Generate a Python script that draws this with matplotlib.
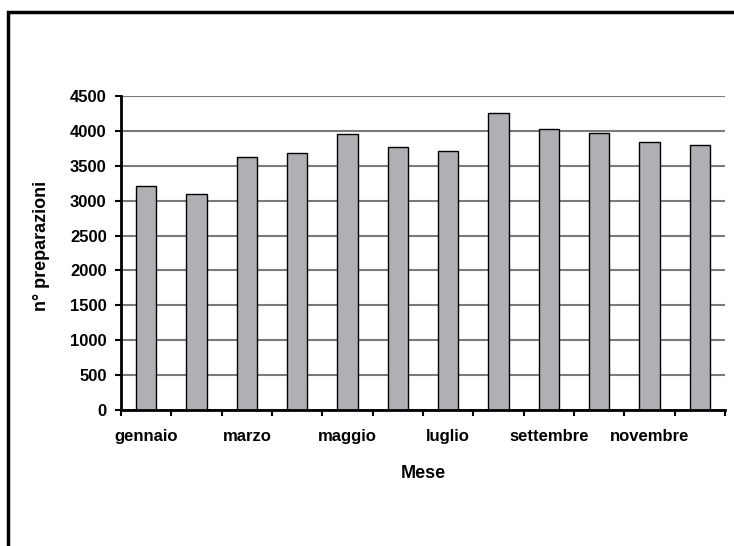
import matplotlib
matplotlib.use("Agg")
import matplotlib.pyplot as plt
from matplotlib.patches import Rectangle
import numpy as np

mesi = ["gennaio", "febbraio", "marzo", "aprile", "maggio", "giugno",
        "luglio", "agosto", "settembre", "ottobre", "novembre", "dicembre"]
preparazioni = [3215, 3095, 3630, 3680, 3950, 3765,
                3705, 4250, 4025, 3965, 3835, 3795]
y_ticks = [0, 500, 1000, 1500, 2000, 2500, 3000, 3500, 4000, 4500]

plt.rcParams["font.family"] = ["Liberation Sans", "DejaVu Sans"]
plt.rcParams["font.weight"] = "bold"

W, H = 734, 546
fig = plt.figure(figsize=(W / 100, H / 100), dpi=100)
ax = fig.add_axes([121 / W, 1 - 410 / H, (725 - 121) / W, (410 - 96) / H])

x = np.arange(len(mesi))
ax.bar(x, preparazioni, width=0.4, color="#b0b0b4", edgecolor="black",
       linewidth=1.0, zorder=3)

ax.set_xlim(-0.5, len(mesi) - 0.5)
ax.set_ylim(0, 4500)
ax.set_yticks(y_ticks)
ax.set_yticklabels([str(v) for v in y_ticks], fontsize=12, fontweight="bold")

# label every other month, ticks sit between the categories
ax.set_xticks(x[::2])
ax.set_xticklabels(mesi[::2], fontsize=12, fontweight="bold")
ax.tick_params(axis="x", which="major", length=0, pad=14)
ax.set_xticks(np.arange(-0.5, len(mesi)), minor=True)
ax.tick_params(axis="x", which="minor", length=4.5, width=1.5, direction="out")
ax.tick_params(axis="y", length=4.5, width=1.5, direction="out", pad=5.8)

ax.yaxis.grid(True, color="#7a7a7a", linewidth=1.5, zorder=0)
ax.set_axisbelow(True)
for side in ["top", "right"]:
    ax.spines[side].set_visible(False)
for side in ["left", "bottom"]:
    ax.spines[side].set_linewidth(2)
    ax.spines[side].set_zorder(4)

ax.set_ylabel("n° preparazioni", fontsize=13, fontweight="bold", va="center")
ax.yaxis.set_label_coords((42 - 121) / 604, 1 - (246 - 96) / 314)
ax.set_xlabel("Mese", fontsize=13, fontweight="bold", labelpad=14.5)

# chart frame
fig.patches.append(Rectangle((7.5 / W, -0.1), 1.2, 1.1 - 12 / H,
                             transform=fig.transFigure, fill=False,
                             edgecolor="black", linewidth=2.5))

fig.savefig("out.png", dpi=100, facecolor="white")
